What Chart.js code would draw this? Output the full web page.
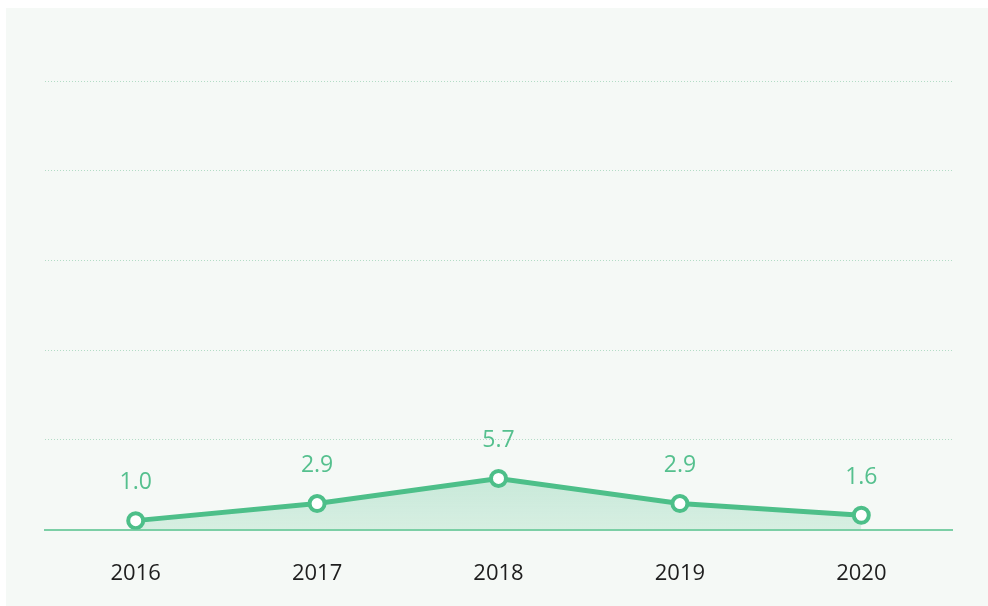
<!DOCTYPE html>
<html>
<head>
<meta charset="utf-8">
<script src="https://cdn.jsdelivr.net/npm/chart.js@4"></script>
<style>
    html, body { margin: 0; padding: 0; background: #ffffff; }
    #wrap {
        position: absolute;
        left: 6px;
        top: 8px;
        width: 982px;
        height: 598px;
        background: #f5f9f6;
    }
</style>
</head>
<body>
<div id="wrap"><canvas id="chart"></canvas></div>
<script>
const years = ["2016", "2017", "2018", "2019", "2020"];
const values = [1.0, 2.9, 5.7, 2.9, 1.6];
const yTicks = [0, 10, 20, 30, 40, 50];

const GREEN = "#4dbf89";

const valueLabels = {
    id: "valueLabels",
    afterDatasetsDraw(chart) {
        const ctx = chart.ctx;
        const meta = chart.getDatasetMeta(0);
        ctx.save();
        ctx.fillStyle = "#55c08e";
        ctx.font = "400 23px 'Open Sans'";
        ctx.textAlign = "center";
        ctx.textBaseline = "middle";
        meta.data.forEach((pt, i) => {
            ctx.fillText(values[i].toFixed(1), pt.x, pt.y - 38);
        });
        ctx.restore();
    }
};

new Chart(document.getElementById("chart"), {
    type: "line",
    data: {
        labels: years,
        datasets: [{
            data: values,
            borderColor: GREEN,
            borderWidth: 5,
            tension: 0,
            fill: "origin",
            backgroundColor(context) {
                const area = context.chart.chartArea;
                if (!area) return "rgba(77, 191, 137, 0.2)";
                const g = context.chart.ctx.createLinearGradient(0, area.bottom - 60, 0, area.bottom);
                g.addColorStop(0, "rgba(77, 191, 137, 0.28)");
                g.addColorStop(1, "rgba(77, 191, 137, 0.18)");
                return g;
            },
            pointRadius: 7.5,
            pointHoverRadius: 7.5,
            pointBackgroundColor: "#ffffff",
            pointBorderColor: GREEN,
            pointBorderWidth: 4
        }]
    },
    options: {
        responsive: true,
        maintainAspectRatio: false,
        animation: false,
        layout: { padding: { left: 39, right: 36, top: 73, bottom: -12 } },
        plugins: {
            legend: { display: false },
            tooltip: { enabled: false }
        },
        scales: {
            x: {
                offset: true,
                grid: { display: false, drawTicks: false },
                border: { display: true, color: "#7ccfa6", width: 2 },
                ticks: {
                    padding: 31,
                    color: "#1e1e1e",
                    font: { family: "'Open Sans'", size: 22 }
                }
            },
            y: {
                min: yTicks[0],
                max: yTicks[yTicks.length - 1],
                afterBuildTicks(scale) {
                    scale.ticks = yTicks.map(v => ({ value: v }));
                },
                ticks: { display: false },
                grid: {
                    drawTicks: false,
                    color: ctx => ctx.tick && ctx.tick.value === 0 ? "rgba(0,0,0,0)" : "#b3dcc6",
                    lineWidth: 1
                },
                border: { display: false, dash: [1, 2] }
            }
        }
    },
    plugins: [valueLabels]
});
</script>
</body>
</html>
